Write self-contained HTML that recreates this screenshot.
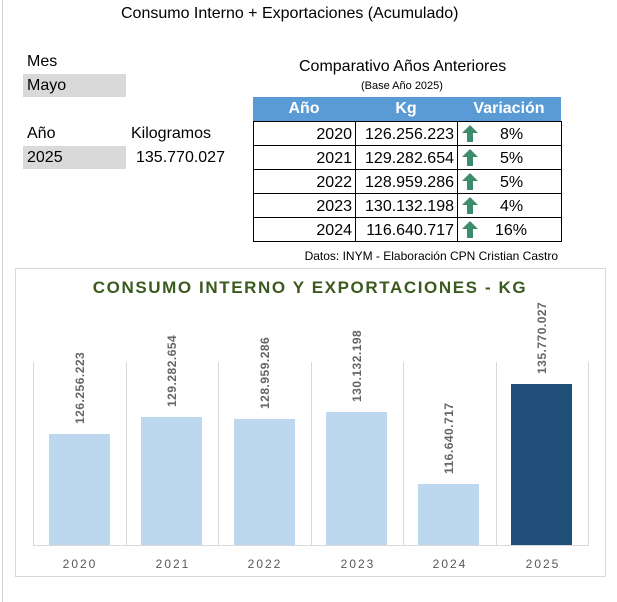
<!DOCTYPE html>
<html><head><meta charset="utf-8"><style>
body{margin:0;width:617px;height:602px;background:#fff;font-family:"Liberation Sans",sans-serif;position:relative;overflow:hidden}
.a{position:absolute;white-space:nowrap}
.gray{position:absolute;background:#d9d9d9}
.c{position:absolute;box-sizing:border-box;height:24px;line-height:23px;font-size:16px;white-space:nowrap}
</style></head><body>
<div style="position:absolute;left:2px;top:0;width:1px;height:602px;background:#d0d0d0"></div>
<div class="a" style="left:121px;top:5px;font-size:16px">Consumo Interno + Exportaciones (Acumulado)</div>
<div class="a" style="left:27px;top:53px;font-size:16px">Mes</div>
<div class="gray" style="left:23px;top:74px;width:103px;height:23px"></div>
<div class="a" style="left:27px;top:77px;font-size:16px">Mayo</div>
<div class="a" style="left:27px;top:125px;font-size:16px">Año</div>
<div class="a" style="left:131px;top:125px;font-size:16px">Kilogramos</div>
<div class="gray" style="left:23px;top:146px;width:103px;height:23px"></div>
<div class="a" style="left:27px;top:149px;font-size:16px">2025</div>
<div class="a" style="left:136px;top:149px;font-size:16px">135.770.027</div>
<div class="a" style="left:299px;top:58px;font-size:16px">Comparativo Años Anteriores</div>
<div class="a" style="left:361px;top:80px;font-size:11px">(Base Año 2025)</div>
<div style="position:absolute;left:253px;top:97px;width:308px;height:24px;background:#5b9bd5"></div>
<div class="c" style="left:253px;top:97px;width:102px;text-align:center;color:#fff;font-weight:bold">Año</div>
<div class="c" style="left:355px;top:97px;width:102px;text-align:center;color:#fff;font-weight:bold">Kg</div>
<div class="c" style="left:457px;top:97px;width:104px;text-align:center;color:#fff;font-weight:bold">Variación</div>
<svg style="position:absolute;left:0;top:0" width="617" height="602">
<g stroke="#000" stroke-width="1" fill="none">
<rect x="253.5" y="121.5" width="308" height="120"/>
<line x1="253" y1="145.5" x2="562" y2="145.5"/><line x1="253" y1="169.5" x2="562" y2="169.5"/><line x1="253" y1="193.5" x2="562" y2="193.5"/><line x1="253" y1="217.5" x2="562" y2="217.5"/>
<line x1="355.5" y1="121" x2="355.5" y2="242"/><line x1="457.5" y1="121" x2="457.5" y2="242"/>
</g>
<g fill="#3d8c6c">
<path d="M470 125 l-8 8 h5 v9 h6 v-9 h5 z"/>
<path d="M470 149 l-8 8 h5 v9 h6 v-9 h5 z"/>
<path d="M470 173 l-8 8 h5 v9 h6 v-9 h5 z"/>
<path d="M470 197 l-8 8 h5 v9 h6 v-9 h5 z"/>
<path d="M470 221 l-8 8 h5 v9 h6 v-9 h5 z"/>
</g>
<g font-family="Liberation Sans" font-size="16" fill="#000">
<text x="352" y="139" text-anchor="end">2020</text><text x="454" y="139" text-anchor="end">126.256.223</text><text x="500" y="139">8%</text>
<text x="352" y="163" text-anchor="end">2021</text><text x="454" y="163" text-anchor="end">129.282.654</text><text x="500" y="163">5%</text>
<text x="352" y="187" text-anchor="end">2022</text><text x="454" y="187" text-anchor="end">128.959.286</text><text x="500" y="187">5%</text>
<text x="352" y="211" text-anchor="end">2023</text><text x="454" y="211" text-anchor="end">130.132.198</text><text x="500" y="211">4%</text>
<text x="352" y="235" text-anchor="end">2024</text><text x="454" y="235" text-anchor="end">116.640.717</text><text x="495" y="235">16%</text>
</g>
<text x="558" y="260" text-anchor="end" font-family="Liberation Sans" font-size="12">Datos: INYM - Elaboración CPN Cristian Castro</text>
<rect x="15.5" y="268.5" width="590" height="308" fill="#fff" stroke="#d9d9d9"/>
<text x="310" y="293" text-anchor="middle" font-family="Liberation Sans" font-weight="bold" font-size="17" letter-spacing="1.6" fill="#3a5a1e">CONSUMO INTERNO Y EXPORTACIONES - KG</text>
<g stroke="#d9d9d9">
<line x1="33.5" y1="362" x2="33.5" y2="545"/><line x1="126.5" y1="362" x2="126.5" y2="545"/><line x1="218.5" y1="362" x2="218.5" y2="545"/><line x1="311.5" y1="362" x2="311.5" y2="545"/><line x1="403.5" y1="362" x2="403.5" y2="545"/><line x1="496.5" y1="362" x2="496.5" y2="545"/><line x1="588.5" y1="362" x2="588.5" y2="545"/>
<line x1="33" y1="545.5" x2="589" y2="545.5"/>
</g>
<g fill="#bdd7ee">
<rect x="49" y="434" width="61" height="111"/>
<rect x="141" y="417" width="61" height="128"/>
<rect x="234" y="419" width="61" height="126"/>
<rect x="326" y="412" width="61" height="133"/>
<rect x="418" y="484" width="61" height="61"/>
</g>
<rect x="511" y="384" width="61" height="161" fill="#1f4e79"/>
<g font-family="Liberation Sans" font-weight="bold" font-size="12" fill="#666" letter-spacing="0.5">
<text transform="translate(84,424) rotate(-90)">126.256.223</text>
<text transform="translate(176,407) rotate(-90)">129.282.654</text>
<text transform="translate(269,409) rotate(-90)">128.959.286</text>
<text transform="translate(361,402) rotate(-90)">130.132.198</text>
<text transform="translate(453,474) rotate(-90)">116.640.717</text>
<text transform="translate(546,374) rotate(-90)">135.770.027</text>
</g>
<g font-family="Liberation Sans" font-size="12" fill="#595959" letter-spacing="2" text-anchor="middle">
<text x="80" y="568">2020</text><text x="173" y="568">2021</text><text x="265" y="568">2022</text><text x="358" y="568">2023</text><text x="450" y="568">2024</text><text x="543" y="568">2025</text>
</g>
</svg>
</body></html>
